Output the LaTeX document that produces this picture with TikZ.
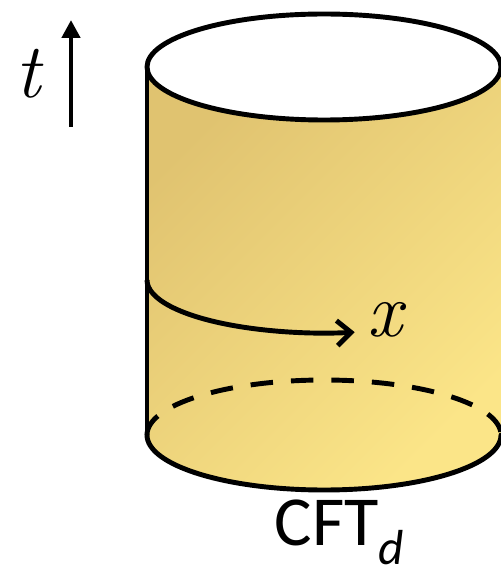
\documentclass[tikz,border=0pt]{standalone}
\usepackage{fontspec}
\setsansfont{Carlito}
\usetikzlibrary{arrows.meta,calc}
\definecolor{sandtop}{RGB}{224,195,112}
\definecolor{sandbot}{RGB}{251,229,136}
\tikzset{
  rim/.style      = {line width=2.8pt, line cap=round},
  hidden/.style   = {line width=2.8pt, dash pattern=on 0.45cm off 0.36cm},
  timearrow/.style = {line width=2.8pt, -{Triangle[length=0.36cm,width=0.36cm]}},
  spacearrow/.style = {line width=2.8pt, -{Straight Barb[length=0.28cm,width=0.5cm,line width=2.8pt]}},
  mathlbl/.style  = {font=\itshape\fontsize{44}{46}\selectfont, inner sep=0pt},
  cftlbl/.style   = {font=\sffamily\fontsize{40}{44}\selectfont, inner sep=0pt}
}
\begin{document}
\begin{tikzpicture}[x=0.02cm,y=-0.02cm]
\useasboundingbox (0,0) rectangle (500,574);

% --- the cylinder ----------------------------------------------------------
\coordinate (topc) at (324,67);
\coordinate (botc) at (324,435);
\coordinate (topl) at (147,67);
\coordinate (botl) at (147,435);
\coordinate (topr) at (501,67);

\shade[left color=sandtop, right color=sandbot, shading angle=45]
  (topl) -- (botl) arc[start angle=180, end angle=0, x radius=177, y radius=55]
  -- (topr) arc[start angle=0, end angle=180, x radius=177, y radius=53] -- cycle;

\draw[rim, fill=white] (topc) ellipse[x radius=177, y radius=53];
\draw[rim] (topl) -- (botl);
\draw[rim] (botl) arc[start angle=180, end angle=0, x radius=177, y radius=55];
\draw[hidden] (botl) arc[start angle=180, end angle=360, x radius=177, y radius=55];

% --- spatial direction -----------------------------------------------------
\coordinate (xstart) at (147,280);
\draw[spacearrow] (xstart) arc[start angle=180, end angle=80, x radius=177, y radius=53]
  coordinate (xend);
\node[mathlbl] (xlbl) at ($(xend)+(30,-12)$) {x};

% --- time direction --------------------------------------------------------
\coordinate (tfoot) at (71,127);
\coordinate (thead) at (71,20);
\draw[timearrow] (tfoot) -- (thead);
\node[mathlbl] (tlbl) at (28,74) {t};

% --- label -----------------------------------------------------------------
\node[cftlbl] (cft) at (340,532) {CFT\textsubscript{\itshape d}};

\end{tikzpicture}
\end{document}
